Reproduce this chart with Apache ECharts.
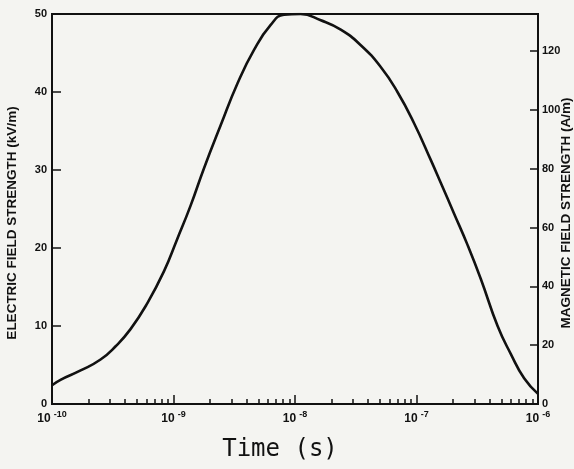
<!DOCTYPE html>
<html>
<head>
<meta charset="utf-8">
<script src="https://cdn.jsdelivr.net/npm/echarts@6/dist/echarts.min.js"></script>
<style>
html,body{margin:0;padding:0;background:#f4f4f1;}
#c{width:574px;height:469px;}
</style>
</head>
<body>
<div id="c"></div>
<script>
// Time (s) and electric field strength (kV/m)
var timeSec = [1.0e-10, 1.175e-10, 1.72e-10, 2.51e-10, 3.34e-10, 4.43e-10, 6.08e-10, 8.34e-10, 1.07e-9, 1.38e-9, 1.78e-9, 2.44e-9, 3.36e-9, 4.60e-9, 6.31e-9, 8.11e-9, 1.11e-8, 1.63e-8, 2.38e-8, 3.48e-8, 5.08e-8, 6.97e-8, 9.55e-8, 1.31e-7, 1.58e-7, 2.04e-7, 2.63e-7, 3.39e-7, 4.65e-7, 5.98e-7, 7.69e-7, 1.0e-6];
var fieldKVm = [2.4, 3.1, 4.3, 5.7, 7.4, 9.6, 12.9, 17.0, 21.1, 25.4, 30.2, 35.7, 41.1, 45.4, 48.6, 49.9, 50.0, 49.2, 48.0, 46.0, 43.2, 40.0, 36.0, 31.3, 28.4, 24.4, 20.4, 16.0, 10.0, 6.4, 3.3, 1.3];

// axis ticks
var xMajorTicks = [1e-10, 1e-9, 1e-8, 1e-7, 1e-6];
var xMajorExponents = ['-10', '-9', '-8', '-7', '-6'];
var xMinorTicks = [2e-10,3e-10,4e-10,5e-10,6e-10,7e-10,8e-10,9e-10,
                   2e-9,3e-9,4e-9,5e-9,6e-9,7e-9,8e-9,9e-9,
                   2e-8,3e-8,4e-8,5e-8,6e-8,7e-8,8e-8,9e-8,
                   2e-7,3e-7,4e-7,5e-7,6e-7,7e-7,8e-7,9e-7];
var leftTicks = [0, 10, 20, 30, 40, 50];
var rightTicks = [0, 20, 40, 60, 80, 100, 120];
var rightMax = 50000 / 377; // 50 kV/m expressed in A/m (free-space impedance)

var ink = '#111';
var labelFont = 'Liberation Sans';

var pairs = timeSec.map(function (t, i) { return [t, fieldKVm[i]]; });

var chart = echarts.init(document.getElementById('c'));
chart.setOption({
  backgroundColor: '#f4f4f1',
  animation: false,
  grid: { left: 52, right: 36, top: 14, bottom: 65, show: true, borderColor: ink, borderWidth: 2, backgroundColor: 'transparent' },
  xAxis: [{
    type: 'log', logBase: 10, min: 1e-10, max: 1e-6, position: 'bottom',
    axisLine: { show: true, lineStyle: { color: ink, width: 2 } },
    axisTick: { show: true, inside: true, length: 9, lineStyle: { color: ink, width: 1.5 }, customValues: xMajorTicks },
    axisLabel: {
      show: true, margin: 6, customValues: xMajorTicks,
      formatter: function (v) {
        var i = xMajorTicks.findIndex(function (t) { return Math.abs(Math.log10(t) - Math.log10(v)) < 1e-6; });
        return '{b|10}{s|' + (i >= 0 ? xMajorExponents[i] : '') + '}';
      },
      rich: {
        b: { fontSize: 12, fontFamily: labelFont, fontWeight: 'bold', color: ink, lineHeight: 15, verticalAlign: 'bottom' },
        s: { fontSize: 9, fontFamily: labelFont, fontWeight: 'bold', color: ink, lineHeight: 9, verticalAlign: 'top', padding: [0, 0, 0, 3] }
      }
    },
    splitLine: { show: false },
    name: 'Time (s)', nameLocation: 'middle', nameGap: 34,
    nameTextStyle: { fontFamily: 'DejaVu Sans Mono', fontSize: 24, color: ink, padding: [0, 30, 0, 0] }
  }, {
    type: 'log', logBase: 10, min: 1e-10, max: 1e-6, position: 'bottom', offset: 0,
    axisLine: { show: false },
    axisTick: { show: true, inside: true, length: 5, lineStyle: { color: ink, width: 1.5 }, customValues: xMinorTicks },
    axisLabel: { show: false },
    splitLine: { show: false }
  }],
  yAxis: [{
    type: 'value', min: 0, max: 50, position: 'left',
    axisLine: { show: true, lineStyle: { color: ink, width: 2 } },
    axisTick: { show: true, inside: true, length: 9, lineStyle: { color: ink, width: 1.5 }, customValues: leftTicks },
    axisLabel: { customValues: leftTicks, margin: 5, fontSize: 11, fontWeight: 'bold', fontFamily: labelFont, color: ink },
    splitLine: { show: false }
  }, {
    type: 'value', min: 0, max: rightMax, position: 'right',
    axisLine: { show: true, lineStyle: { color: ink, width: 2 } },
    axisTick: { show: true, inside: true, length: 8, lineStyle: { color: ink, width: 1.5 }, customValues: rightTicks },
    axisLabel: { customValues: rightTicks, margin: 4, fontSize: 11, fontWeight: 'bold', fontFamily: labelFont, color: ink },
    splitLine: { show: false }
  }],
  graphic: [{
    type: 'text', rotation: Math.PI / 2,
    x: 12, y: 223,
    style: { text: 'ELECTRIC FIELD STRENGTH (kV/m)', font: 'bold 13.5px "Liberation Sans"', fill: ink, textAlign: 'center', textVerticalAlign: 'middle' }
  }, {
    type: 'text', rotation: Math.PI / 2,
    x: 566, y: 213,
    style: { text: 'MAGNETIC FIELD STRENGTH (A/m)', font: 'bold 13.5px "Liberation Sans"', fill: ink, textAlign: 'center', textVerticalAlign: 'middle' }
  }],
  series: [{
    type: 'line', xAxisIndex: 0, yAxisIndex: 0, data: pairs,
    smooth: 0.5, symbol: 'none',
    lineStyle: { color: ink, width: 2.6 }
  }]
});
</script>
</body>
</html>
